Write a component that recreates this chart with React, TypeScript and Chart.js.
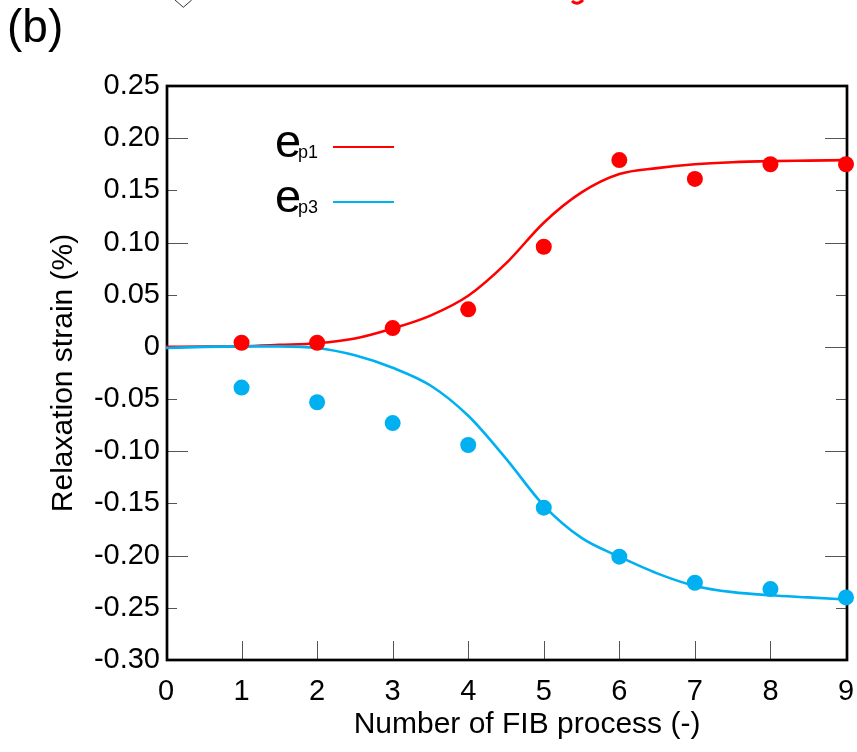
import { useEffect, useRef } from "react";
import { Chart, registerables } from "chart.js";

Chart.register(...registerables);

// Measured relaxation strain after each FIB process step
const processSteps = [1, 2, 3, 4, 5, 6, 7, 8, 9];
const ep1Measured = [0.004, 0.004, 0.018, 0.036, 0.096, 0.179, 0.161, 0.175, 0.175];
const ep3Measured = [-0.039, -0.053, -0.073, -0.094, -0.154, -0.201, -0.226, -0.232, -0.240];

// Fitted curves, sampled every half step
const fitSteps = [0, 0.5, 1, 1.5, 2, 2.5, 3, 3.5, 4, 4.5, 5, 5.5, 6, 6.5, 7, 7.5, 8, 8.5, 9];
const ep1Fit = [0.0, 0.0003, 0.0007, 0.002, 0.0035, 0.008, 0.0176, 0.03, 0.049, 0.08, 0.119, 0.148, 0.1656, 0.1713, 0.175, 0.177, 0.178, 0.1785, 0.179];
const ep3Fit = [-0.001, 0.0, 0.0005, 0.0005, -0.001, -0.008, -0.02, -0.037, -0.066, -0.107, -0.152, -0.183, -0.201, -0.217, -0.229, -0.235, -0.238, -0.24, -0.242];

// Axis ticks
const strainTicks = [-0.3, -0.25, -0.2, -0.15, -0.1, -0.05, 0, 0.05, 0.1, 0.15, 0.2, 0.25];
const processTicks = [0, 1, 2, 3, 4, 5, 6, 7, 8, 9];

const RED = "#ff0000";
const BLUE = "#00b0f0";
const FONT = "'Liberation Sans', Arial, sans-serif";

const fmtStrain = (v: number) => (Math.abs(v) < 1e-9 ? "0" : v.toFixed(2));

// Frame around the plot area with inward tick marks
const framePlugin = {
  id: "frameAndTicks",
  beforeDatasetsDraw(chart: any) {
    const { ctx, chartArea: a, scales } = chart;
    const xs = scales.x;
    const ys = scales.y;
    ctx.save();
    ctx.strokeStyle = "#555";
    ctx.lineWidth = 1;
    ctx.beginPath();
    strainTicks.forEach((v) => {
      const major = Math.round(v * 100) % 10 === 0;
      const py = Math.round(ys.getPixelForValue(v)) + 0.5;
      const lenL = major ? 22 : 11;
      const lenR = major ? 21 : 10;
      ctx.moveTo(a.left, py);
      ctx.lineTo(a.left + lenL, py);
      ctx.moveTo(a.right, py);
      ctx.lineTo(a.right - lenR, py);
    });
    processTicks.forEach((v) => {
      const px = Math.round(xs.getPixelForValue(v)) + 0.5;
      ctx.moveTo(px, a.bottom);
      ctx.lineTo(px, a.bottom - 19);
    });
    ctx.stroke();

    ctx.strokeStyle = "#000";
    ctx.lineWidth = 2.7;
    ctx.strokeRect(a.left + 1, a.top, a.right - a.left, a.bottom - a.top);
    ctx.restore();
  },
  afterDraw(chart: any) {
    const { ctx, chartArea: a } = chart;
    ctx.save();
    ctx.fillStyle = "#000";

    // panel label
    ctx.font = `46px ${FONT}`;
    ctx.textAlign = "left";
    ctx.textBaseline = "alphabetic";
    ctx.fillText("(b)", 7, 42);

    // axis titles
    ctx.font = `30px ${FONT}`;
    ctx.textAlign = "center";
    ctx.textBaseline = "middle";
    ctx.fillText("Number of FIB process (-)", 527, 725);
    ctx.save();
    ctx.translate(64, (a.top + a.bottom) / 2);
    ctx.rotate(-Math.PI / 2);
    ctx.fillText("Relaxation strain (%)", 0, 0);
    ctx.restore();

    // legend
    const entries = [
      { sub: "p1", color: RED, base: 157 },
      { sub: "p3", color: BLUE, base: 212 },
    ];
    ctx.textAlign = "left";
    ctx.textBaseline = "alphabetic";
    entries.forEach((e) => {
      ctx.fillStyle = "#000";
      ctx.font = `47px ${FONT}`;
      ctx.fillText("e", 275, e.base);
      ctx.font = `18px ${FONT}`;
      ctx.fillText(e.sub, 298, e.base + 1);
      ctx.strokeStyle = e.color;
      ctx.lineWidth = 2.2;
      ctx.beginPath();
      ctx.moveTo(333, e.base - 10);
      ctx.lineTo(394, e.base - 10);
      ctx.stroke();
    });

    // edge of the panel above
    ctx.strokeStyle = "#333";
    ctx.lineWidth = 1;
    ctx.beginPath();
    ctx.moveTo(175, 0);
    ctx.lineTo(183.3, 7.3);
    ctx.lineTo(191.7, 0);
    ctx.stroke();
    ctx.strokeStyle = RED;
    ctx.lineWidth = 3;
    ctx.beginPath();
    ctx.moveTo(572, 1);
    ctx.quadraticCurveTo(577, 6, 583, 0);
    ctx.stroke();
    ctx.restore();
  },
};

export default function App() {
  const canvasRef = useRef<HTMLCanvasElement | null>(null);

  useEffect(() => {
    document.body.style.margin = "0";
    const canvas = canvasRef.current;
    if (!canvas) return;
    Chart.defaults.font.family = FONT;

    const toPoints = (xs: number[], ys: number[]) => xs.map((x, i) => ({ x, y: ys[i] }));

    const chart = new Chart(canvas, {
      type: "scatter",
      data: {
        datasets: [
          {
            label: "ep1",
            data: toPoints(processSteps, ep1Measured),
            backgroundColor: RED,
            borderWidth: 0,
            pointRadius: 8,
            clip: false,
          } as any,
          {
            label: "ep3",
            data: toPoints(processSteps, ep3Measured),
            backgroundColor: BLUE,
            borderWidth: 0,
            pointRadius: 8,
            clip: false,
          } as any,
          {
            label: "ep3 fit",
            data: toPoints(fitSteps, ep3Fit),
            showLine: true,
            borderColor: BLUE,
            borderWidth: 2.6,
            pointRadius: 0,
            cubicInterpolationMode: "monotone",
          } as any,
          {
            label: "ep1 fit",
            data: toPoints(fitSteps, ep1Fit),
            showLine: true,
            borderColor: RED,
            borderWidth: 2.6,
            pointRadius: 0,
            cubicInterpolationMode: "monotone",
          } as any,
        ],
      },
      options: {
        animation: false,
        responsive: false,
        maintainAspectRatio: false,
        layout: { padding: { top: 86, right: 11, bottom: 0, left: 0 } },
        plugins: { legend: { display: false }, tooltip: { enabled: false } },
        scales: {
          x: {
            type: "linear",
            min: 0,
            max: 9,
            grid: { display: false, drawTicks: false },
            border: { display: false },
            afterBuildTicks: (s: any) => {
              s.ticks = processTicks.map((v) => ({ value: v }));
            },
            afterFit: (s: any) => {
              s.height = 92;
              s.paddingLeft = 0;
              s.paddingRight = 0;
            },
            ticks: {
              color: "#000",
              font: { size: 29 },
              padding: 15,
              maxRotation: 0,
              autoSkip: false,
              callback: (v: any) => String(v),
            },
          },
          y: {
            type: "linear",
            min: -0.3,
            max: 0.25,
            grid: { display: false, drawTicks: false },
            border: { display: false },
            afterBuildTicks: (s: any) => {
              s.ticks = strainTicks.map((v) => ({ value: v }));
            },
            afterFit: (s: any) => {
              s.width = 166;
              s.paddingTop = 0;
              s.paddingBottom = 0;
            },
            ticks: {
              color: "#000",
              font: { size: 29 },
              padding: 6,
              autoSkip: false,
              callback: (v: any) => fmtStrain(Number(v)),
            },
          },
        },
      },
      plugins: [framePlugin],
    });

    return () => chart.destroy();
  }, []);

  return <canvas ref={canvasRef} width={857} height={752} style={{ display: "block" }} />;
}
